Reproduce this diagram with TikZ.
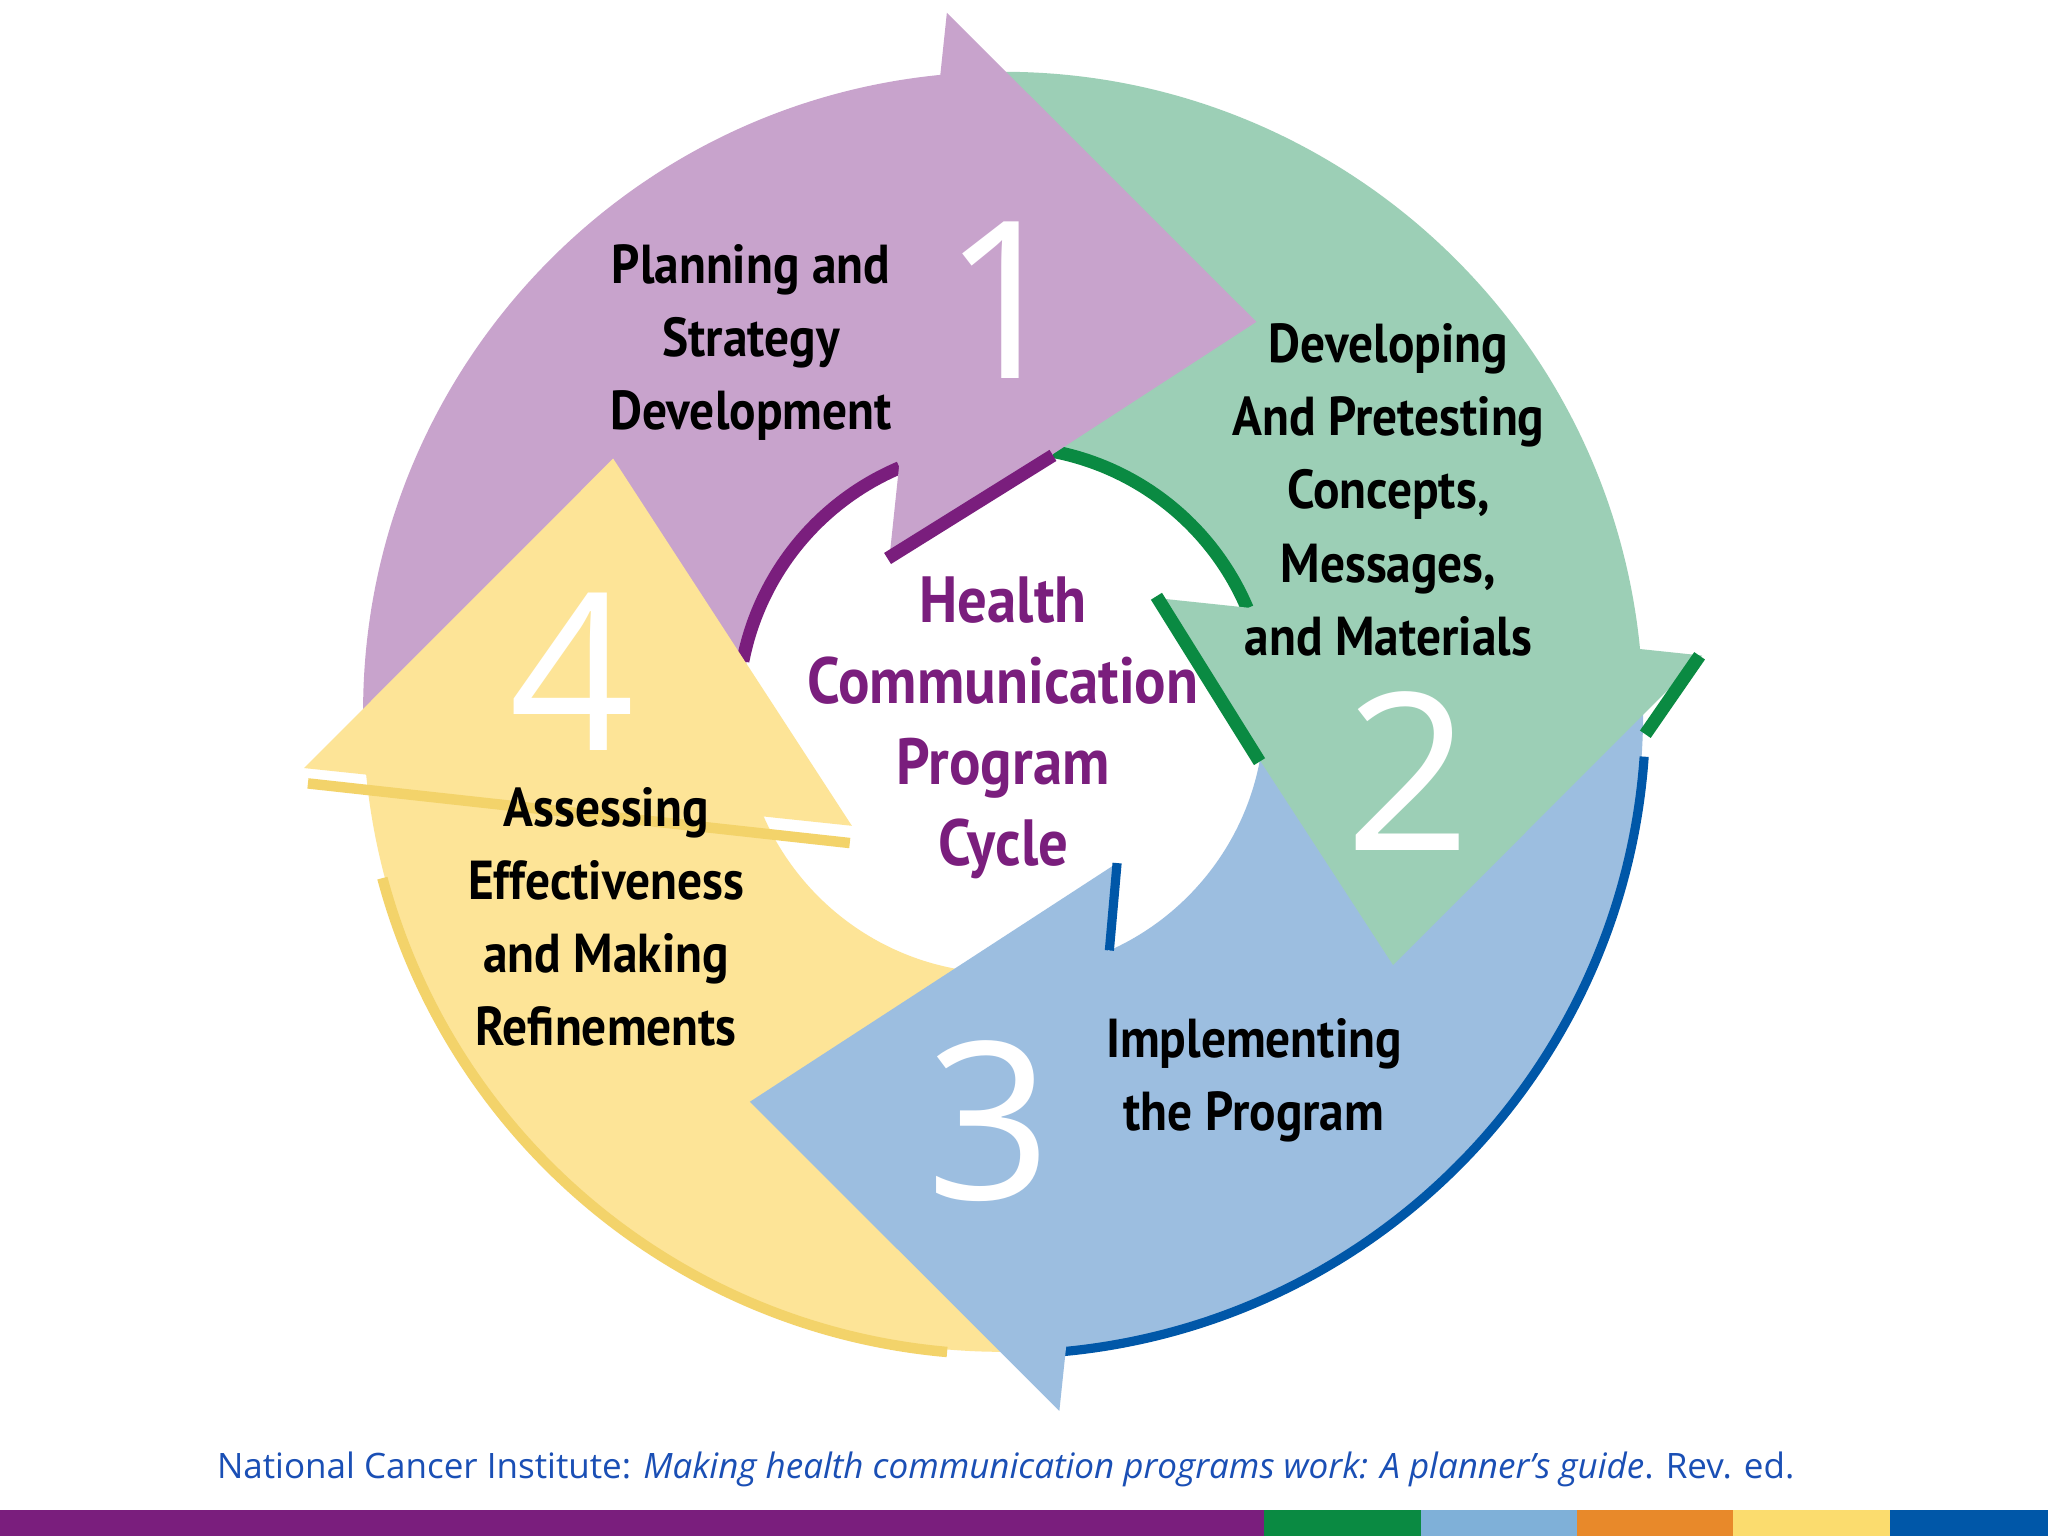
\documentclass[tikz,border=0pt]{standalone}
\usepackage{fontspec}
\newfontfamily\lab[FakeStretch=0.9]{PT Sans}
\newfontfamily\numfont{Open Sans}
\newfontfamily\capfont{Open Sans}
\definecolor{pu}{HTML}{C8A3CC}
\definecolor{gr}{HTML}{9CCFB6}
\definecolor{bl}{HTML}{9CBEE0}
\definecolor{ye}{HTML}{FDE497}
\definecolor{dpu}{HTML}{7A1E7D}
\definecolor{dgr}{HTML}{0A8A42}
\definecolor{dbl}{HTML}{0057A8}
\definecolor{dye}{HTML}{F3D36A}
\definecolor{capc}{HTML}{1A4FB5}
\definecolor{orb}{HTML}{E8892A}
\definecolor{lbb}{HTML}{7FB0D8}
\definecolor{yeb}{HTML}{FBDC6E}
\tikzset{
  body/.pic={\fill[pic actions] (93:490) arc[start angle=93,end angle=183,radius=490] -- (183:200) arc[start angle=183,end angle=93,radius=200] -- cycle;},
  head/.pic={\fill[pic actions] (94.6:537) -- (57:356) -- (127:145) -- cycle;},
  lbl/.style={font=\lab\bfseries\fontsize{21}{28}\selectfont, align=center, text=black},
  bignum/.style={font=\numfont\fontsize{84}{84}\selectfont, text=white},
}
\begin{document}
\begin{tikzpicture}[x=0.5pt,y=0.5pt]
\useasboundingbox (0,0) rectangle (1568,1176);
\fill[white] (0,0) rectangle (1568,1176);
\begin{scope}[shift={(768,631)}]
  \pic[fill=pu] {body};
  \pic[fill=gr, rotate=-90] {body};
  \pic[fill=bl, rotate=-180] {body};
  \pic[fill=ye, rotate=-270] {body};
  \draw[dpu, line width=5pt] (169:203) arc[start angle=169,end angle=113,radius=203];
  \draw[dgr, line width=5pt] (79:203) arc[start angle=79,end angle=23,radius=203];
  \draw[dbl, line width=3.5pt] (-4:492) arc[start angle=-4,end angle=-86,radius=492];
  \draw[dye, line width=4pt] (-95:492) arc[start angle=-95,end angle=-165,radius=492];
  \pic[fill=pu] {head};
  \pic[fill=gr, rotate=-90] {head};
  \pic[fill=bl, rotate=-180] {head};
  \pic[fill=ye, rotate=-270] {head};
  \draw[dpu, line width=5pt] (127:147) -- (79:200);
  \draw[dgr, line width=5pt] (37:147) -- (-11:200);
  \draw[dgr, line width=5pt] (4.6:535) -- (-2:492);
  \draw[dbl, line width=3.5pt] (-53:145) -- (-66:200);
  \draw[dye, line width=4pt] ([yshift=-6]184.6:534) -- ([yshift=-6]217:147);
\end{scope}
\node[lbl] (t1) at (575,914) {Planning and\\Strategy\\Development};
\node[lbl] (t2) at (1063,801) {Developing\\And Pretesting\\Concepts,\\Messages,\\and Materials};
\node[lbl] (t3) at (960,349) {Implementing\\the Program};
\node[lbl] (t4) at (464,474) {Assessing\\Effectiveness\\and Making\\Refinements};
\node[font=\lab\bfseries\fontsize{25}{31}\selectfont, align=center, text=dpu] (c) at (768,619) {Health\\Communication\\Program\\Cycle};
\node[bignum] (n1) at (770,946) {1};
\node[bignum] (n2) at (1078,586) {2};
\node[bignum] (n3) at (757,318) {3};
\node[bignum, inner sep=0pt] (n4) at (438,662) {4};
\node[font=\capfont\fontsize{13.4}{16}\selectfont, text=capc] (cap) at (770,51) {National Cancer Institute: \textit{Making health communication programs work: A planner’s guide}. Rev. ed.};
\fill[dpu] (0,0) rectangle (968,20);
\fill[dgr] (968,0) rectangle (1088,20);
\fill[lbb] (1088,0) rectangle (1207,20);
\fill[orb] (1207,0) rectangle (1327,20);
\fill[yeb] (1327,0) rectangle (1447,20);
\fill[dbl] (1447,0) rectangle (1568,20);
\end{tikzpicture}
\end{document}
